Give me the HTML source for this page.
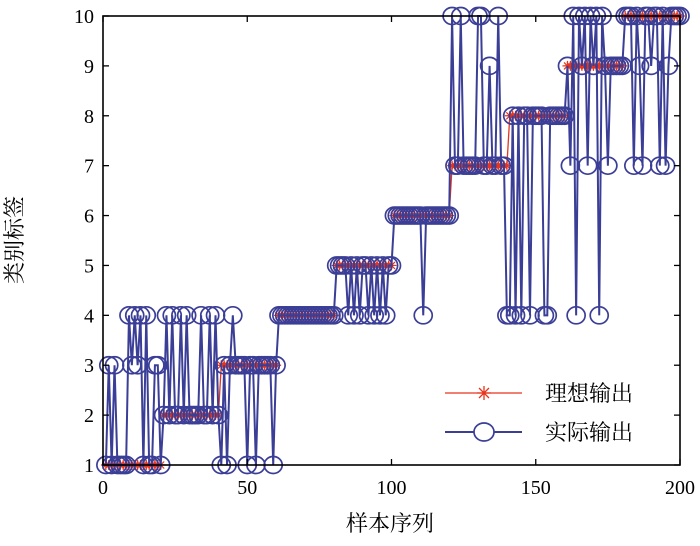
<!DOCTYPE html>
<html><head><meta charset="utf-8"><style>
body{margin:0;background:#fff}
svg{display:block;font-family:"Liberation Serif","Noto Serif CJK SC",serif}
</style></head><body>
<svg id="c" width="700" height="546"></svg>
<script>
const ideal=[];
for(let k=1;k<=10;k++)for(let j=0;j<20;j++)ideal.push(k);
const actual=[
1,3,1,3,1,1,1,1,4,3,4,3,4,1,4,1,1,3,3,1,
2,4,2,4,2,2,4,2,4,2,2,2,2,4,2,2,4,2,4,2,
1,3,1,3,4,3,3,3,3,1,3,3,1,3,3,3,3,3,1,3,
4,4,4,4,4,4,4,4,4,4,4,4,4,4,4,4,4,4,4,4,
5,5,5,5,4,5,4,5,4,5,5,4,5,4,5,4,5,4,5,5,
6,6,6,6,6,6,6,6,6,6,4,6,6,6,6,6,6,6,6,6,
10,7,7,10,7,7,7,7,7,10,10,7,7,9,7,7,10,7,7,4,
4,8,4,8,4,8,8,4,8,8,8,8,4,4,8,8,8,8,8,8,
9,7,10,4,10,9,10,7,10,9,10,4,10,9,7,9,9,9,9,9,
10,10,10,7,10,9,7,10,10,9,10,10,7,10,7,9,10,10,10,10];
const xTicks=[0,50,100,150,200], yTicks=[1,2,3,4,5,6,7,8,9,10];
const X0=103,X1=680,Y0=465,Y1=16;
const sx=v=>X0+(v-0)/200*(X1-X0), sy=v=>Y0-(v-1)/9*(Y0-Y1);
const svg=document.getElementById('c'),NS='http://www.w3.org/2000/svg';
function mk(t,a,p){const e=document.createElementNS(NS,t);for(const k in a)e.setAttribute(k,a[k]);(p||svg).appendChild(e);return e;}
const blue='#3b3e96',red='#e8341c';
let g1=mk('g',{});


mk('polyline',{points:ideal.map((v,i)=>sx(i+1)+','+sy(v)).join(' '),fill:'none',stroke:red,'stroke-width':1.3},g1);
ideal.forEach((v,i)=>{const x=sx(i+1),y=sy(v);
 const s=mk('path',{d:`M${x-5},${y}H${x+5}M${x},${y-5}V${y+5}M${x-3.5},${y-3.5}L${x+3.5},${y+3.5}M${x-3.5},${y+3.5}L${x+3.5},${y-3.5}`,stroke:red,'stroke-width':1.2},g1);
 
 });
let g2=mk('g',{});


mk('polyline',{points:actual.map((v,i)=>sx(i+1)+','+sy(v)).join(' '),fill:'none',stroke:blue,'stroke-width':2},g2);
actual.forEach((v,i)=>{const c=mk('ellipse',{cx:sx(i+1),cy:sy(v),rx:9,ry:8.5,fill:'none',stroke:blue,'stroke-width':1.7},g2);
 
 });
const box=mk('rect',{x:X0,y:Y1,width:X1-X0,height:Y0-Y1,fill:'none',stroke:'#000','stroke-width':1.6});


xTicks.forEach(t=>{const x=sx(t);mk('line',{x1:x,x2:x,y1:Y0,y2:Y0-6,stroke:'#000','stroke-width':1.3});mk('line',{x1:x,x2:x,y1:Y1,y2:Y1+6,stroke:'#000','stroke-width':1.3});
 const l=mk('text',{x:x,y:Y0+29,'text-anchor':'middle','font-size':20});l.textContent=t;
 
 });
yTicks.forEach(t=>{const y=sy(t);mk('line',{x1:X0,x2:X0+6,y1:y,y2:y,stroke:'#000','stroke-width':1.3});mk('line',{x1:X1,x2:X1-6,y1:y,y2:y,stroke:'#000','stroke-width':1.3});
 const l=mk('text',{x:X0-9,y:y+7,'text-anchor':'end','font-size':20});l.textContent=t;
 
 });
const xt=mk('text',{x:390,y:531,'text-anchor':'middle','font-size':22});xt.textContent='样本序列';


const yt=mk('text',{x:0,y:0,'text-anchor':'middle','font-size':22,transform:'translate(22,240) rotate(-90)'});yt.textContent='类别标签';


const lg=mk('g',{});


mk('line',{x1:445,x2:522,y1:393,y2:393,stroke:red,'stroke-width':1.3},lg);
mk('path',{d:'M477,393H491M484,386V400M479,388L489,398M479,398L489,388',stroke:red,'stroke-width':1.3},lg);
const t1=mk('text',{x:545,y:401,'font-size':22},lg);t1.textContent='理想输出';
mk('line',{x1:445,x2:522,y1:432,y2:432,stroke:blue,'stroke-width':2},lg);
mk('ellipse',{cx:484,cy:432,rx:10,ry:9,fill:'#fff',stroke:blue,'stroke-width':1.7},lg);
const t2=mk('text',{x:545,y:440,'font-size':22},lg);t2.textContent='实际输出';
</script>
</body></html>
